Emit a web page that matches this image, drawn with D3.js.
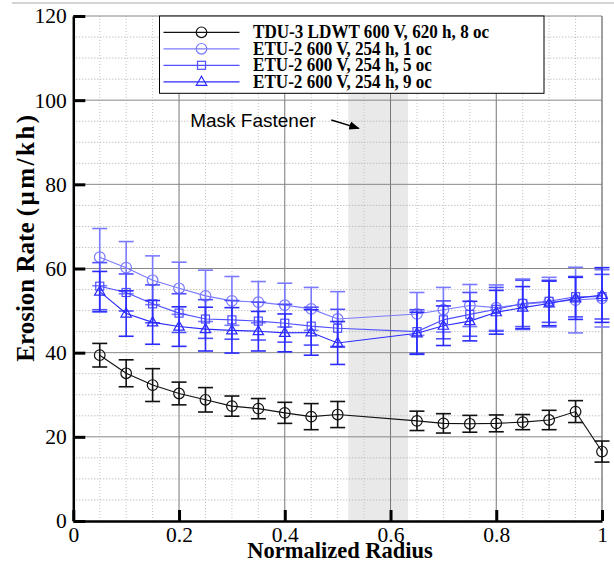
<!DOCTYPE html>
<html>
<head>
<meta charset="utf-8">
<script src="https://cdn.jsdelivr.net/npm/d3@7"></script>
<style>
  body { margin: 0; background: #fff; }
  svg { display: block; }
  .axis .domain { stroke: #000; stroke-width: 2.5; }
  .axis .tick line { stroke: #000; stroke-width: 3; }
</style>
</head>
<body>
<svg id="chart" width="614" height="563"></svg>
<script>
// normalized radius of each measurement
const radius = [0.05, 0.1, 0.15, 0.2, 0.25, 0.3, 0.35, 0.4, 0.45, 0.5, 0.65, 0.7, 0.75, 0.8, 0.85, 0.9, 0.95, 1.0];

// erosion rate (um/kh) and +/- error
const tdu3 = [39.4, 35.1, 32.3, 30.3, 28.8, 27.3, 26.7, 25.7, 24.8, 25.3, 23.8, 23.2, 23.1, 23.2, 23.5, 24.0, 26.0, 16.5];
const tdu3Err = [2.8, 3.2, 3.9, 2.7, 2.9, 2.4, 2.4, 2.5, 3.1, 3.1, 2.3, 2.3, 2.0, 2.0, 1.8, 2.3, 2.6, 2.5];
const etu1 = [62.7, 60.2, 57.2, 55.3, 53.5, 52.3, 52.0, 51.3, 50.4, 48.0, 49.2, 50.2, 51.2, 50.7, 51.5, 52.0, 52.5, 52.9];
const etu1Err = [6.8, 6.2, 5.8, 6.2, 6.1, 5.8, 4.9, 5.2, 5.1, 6.5, 5.1, 5.3, 5.0, 5.4, 6.0, 5.9, 7.8, 6.8];
const etu5 = [55.8, 54.3, 51.6, 49.4, 48.0, 47.8, 47.5, 47.0, 46.3, 45.8, 45.0, 47.8, 49.1, 50.3, 51.7, 52.2, 53.3, 53.3];
const etu5Err = [5.6, 4.4, 4.5, 4.6, 4.6, 4.6, 4.5, 4.5, 4.5, 4.5, 5.2, 4.5, 5.2, 5.2, 5.5, 5.0, 4.8, 5.3];
const etu9 = [54.5, 49.3, 47.2, 46.2, 45.6, 45.3, 45.1, 44.7, 44.8, 42.3, 44.6, 46.4, 47.5, 49.6, 50.7, 51.7, 52.9, 53.7];
const etu9Err = [4.8, 5.4, 5.2, 4.7, 5.2, 5.4, 4.7, 4.5, 5.4, 5.1, 5.0, 4.7, 4.7, 5.2, 5.0, 5.3, 5.0, 6.5];

const labels = ["TDU-3 LDWT 600 V, 620 h, 8 oc", "ETU-2 600 V, 254 h, 1 oc", "ETU-2 600 V, 254 h, 5 oc", "ETU-2 600 V, 254 h, 9 oc"];
const xTicks = [0, 0.2, 0.4, 0.6, 0.8, 1];
const yTicks = [0, 20, 40, 60, 80, 100, 120];
const maskRange = [0.52, 0.633];

const serif = "'Liberation Serif', 'Times New Roman', serif";

const series = [
    {name: labels[0], vals: tdu3, err: tdu3Err, color: "#111", mark: "circle"},
    {name: labels[1], vals: etu1, err: etu1Err, color: "#7a7aff", mark: "circle"},
    {name: labels[2], vals: etu5, err: etu5Err, color: "#5050ff", mark: "square"},
    {name: labels[3], vals: etu9, err: etu9Err, color: "#2b2bff", mark: "triangle"}
];

const svg = d3.select("#chart"),
      margin = {top: 16, right: 12, bottom: 42, left: 73.3},
      width = +svg.attr("width") - margin.left - margin.right,
      height = +svg.attr("height") - margin.top - margin.bottom;

// light frame line along the top of the picture
svg.append("line").attr("x1", 12).attr("x2", 614).attr("y1", 3).attr("y2", 3)
    .attr("stroke", "#d4d4d4").attr("stroke-width", 2);

const g = svg.append("g").attr("transform", "translate(" + margin.left + "," + margin.top + ")");

const x = d3.scaleLinear().domain([0, 1]).range([0, width]),
      y = d3.scaleLinear().domain([0, 120]).range([height, 0]);

// shaded mask fastener band
g.append("rect")
    .attr("x", x(maskRange[0])).attr("width", x(maskRange[1]) - x(maskRange[0]))
    .attr("y", 0).attr("height", height)
    .attr("fill", "#e9e9e9");

// minor grid, dotted
const minorX = d3.range(1, 20).map(i => i * 0.05).filter((d, i) => (i + 1) % 4 !== 0);
const minorY = d3.range(1, 24).map(i => i * 5).filter(d => d % 20 !== 0);
g.selectAll(".minx").data(minorX).join("line")
    .attr("x1", d => x(d)).attr("x2", d => x(d)).attr("y1", 0).attr("y2", height)
    .attr("stroke", "#c4c4c4").attr("stroke-dasharray", "1,2");
g.selectAll(".miny").data(minorY).join("line")
    .attr("x1", 0).attr("x2", width).attr("y1", d => y(d)).attr("y2", d => y(d))
    .attr("stroke", "#aaa").attr("stroke-dasharray", "1,2");

// major grid
g.selectAll(".majx").data(xTicks.slice(1)).join("line")
    .attr("x1", d => x(d)).attr("x2", d => x(d)).attr("y1", 0).attr("y2", height)
    .attr("stroke", d => d === 1 ? "#444" : "#777");
g.selectAll(".majy").data(yTicks.slice(1)).join("line")
    .attr("x1", 0).attr("x2", width).attr("y1", d => y(d)).attr("y2", d => y(d))
    .attr("stroke", "#888");

// axes
g.append("g")
    .attr("class", "axis")
    .attr("transform", "translate(0," + height + ")")
    .call(d3.axisBottom(x).tickValues(xTicks).tickFormat(d => d).tickSizeInner(-11).tickSizeOuter(0).tickPadding(6))
    .attr("font-family", serif)
    .attr("font-size", 21.5);

g.append("g")
    .attr("class", "axis")
    .call(d3.axisLeft(y).tickValues(yTicks).tickSizeInner(-12).tickSizeOuter(0).tickPadding(6.5))
    .attr("font-family", serif)
    .attr("font-size", 21.5);

// series
const line = d3.line()
    .x((d, i) => x(radius[i]))
    .y(d => y(d));

function marker(sel, type, color) {
    if (type === "circle") {
        sel.append("circle").attr("r", 5.3);
    } else if (type === "square") {
        sel.append("rect").attr("x", -4).attr("y", -4).attr("width", 8).attr("height", 8);
    } else {
        sel.append("path").attr("d", "M0,-5.5L5.2,3.5L-5.2,3.5Z");
    }
    sel.selectAll("circle,rect,path").attr("fill", "none").attr("stroke", color).attr("stroke-width", 1.2);
}

series.forEach(s => {
    const sg = g.append("g");

    sg.append("path")
        .datum(s.vals)
        .attr("fill", "none")
        .attr("stroke", s.color)
        .attr("stroke-width", 1.1)
        .attr("d", line);

    const bars = sg.selectAll(".bar").data(s.vals).join("g")
        .attr("stroke", s.color).attr("stroke-width", 1.6);
    bars.append("line")
        .attr("x1", (d, i) => x(radius[i])).attr("x2", (d, i) => x(radius[i]))
        .attr("y1", (d, i) => y(d + s.err[i])).attr("y2", (d, i) => y(d - s.err[i]));
    bars.append("line")
        .attr("x1", (d, i) => x(radius[i]) - 7.5).attr("x2", (d, i) => x(radius[i]) + 7.5)
        .attr("y1", (d, i) => y(d + s.err[i])).attr("y2", (d, i) => y(d + s.err[i]));
    bars.append("line")
        .attr("x1", (d, i) => x(radius[i]) - 7.5).attr("x2", (d, i) => x(radius[i]) + 7.5)
        .attr("y1", (d, i) => y(d - s.err[i])).attr("y2", (d, i) => y(d - s.err[i]));

    sg.selectAll(".pt").data(s.vals).join("g")
        .attr("transform", (d, i) => "translate(" + x(radius[i]) + "," + y(d) + ")")
        .each(function() { marker(d3.select(this), s.mark, s.color); });
});

// annotation
svg.append("defs").append("marker")
    .attr("id", "arrow").attr("viewBox", "0 0 10 10")
    .attr("refX", 9).attr("refY", 5)
    .attr("markerWidth", 7).attr("markerHeight", 7)
    .attr("orient", "auto")
    .append("path").attr("d", "M0,1L10,5L0,9Z").attr("fill", "#000");

g.append("text")
    .attr("x", x(0.221)).attr("y", y(93.7))
    .attr("font-family", "'Liberation Sans', Arial, sans-serif")
    .attr("font-size", 19)
    .text("Mask Fastener");

g.append("line")
    .attr("x1", x(0.488)).attr("y1", y(95.3))
    .attr("x2", x(0.54)).attr("y2", y(93.3))
    .attr("stroke", "#000").attr("stroke-width", 1.5)
    .attr("marker-end", "url(#arrow)");

// legend
const legend = svg.append("g").attr("transform", "translate(159.5,16)");
legend.append("rect")
    .attr("width", 384.5).attr("height", 77.3)
    .attr("fill", "#fff").attr("stroke", "#000").attr("stroke-width", 1);

const rows = legend.selectAll(".row").data(series).join("g")
    .attr("transform", (d, i) => "translate(0," + (16.3 + i * 16.5) + ")");
rows.append("line")
    .attr("x1", 4).attr("x2", 80)
    .attr("stroke", d => d.color).attr("stroke-width", 1.2);
rows.append("g")
    .attr("transform", "translate(42,0)")
    .each(function(d) { marker(d3.select(this), d.mark, d.color); });
rows.append("text")
    .attr("x", 93.5).attr("y", 5.8)
    .attr("font-family", serif)
    .attr("font-weight", "bold")
    .attr("font-size", 19)
    .text(d => d.name)
    .each(function() {
        // the original face is a little narrower than Times at this height
        const w = this.getComputedTextLength();
        d3.select(this).attr("textLength", w * 0.9).attr("lengthAdjust", "spacingAndGlyphs");
    });

// axis titles
const ylab = svg.append("text")
    .attr("transform", "translate(34,237) rotate(-90)")
    .attr("text-anchor", "middle")
    .attr("font-family", serif)
    .attr("font-weight", "bold")
    .attr("font-size", 25);
ylab.append("tspan").text("Erosion Rate ");
ylab.append("tspan").attr("letter-spacing", 2.5).text("(\u03bcm/kh)");

svg.append("text")
    .attr("x", 340).attr("y", 558)
    .attr("text-anchor", "middle")
    .attr("font-family", serif)
    .attr("font-weight", "bold")
    .attr("font-size", 22.5)
    .text("Normalized Radius");
</script>
</body>
</html>
